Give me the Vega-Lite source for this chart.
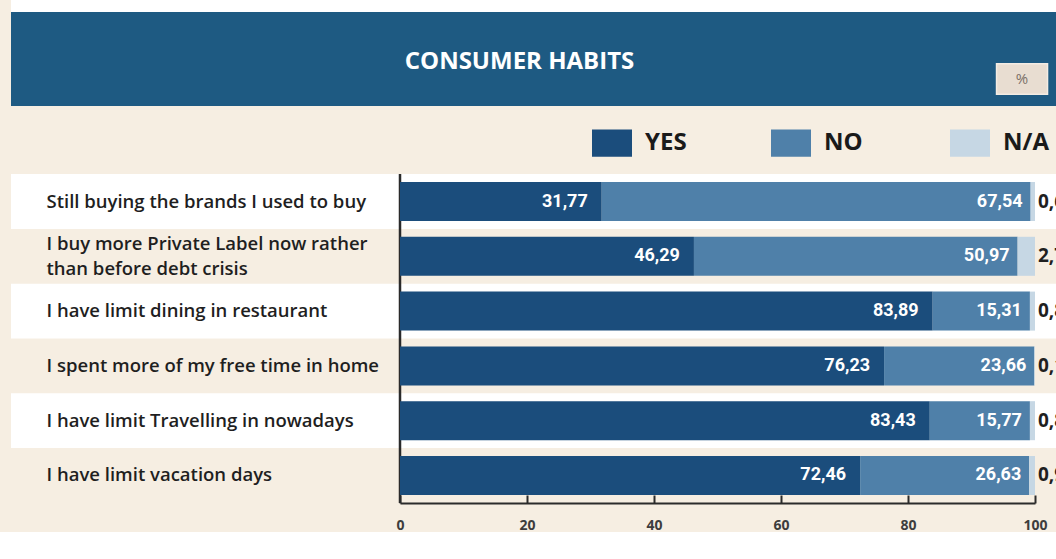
{
  "$schema": "https://vega.github.io/schema/vega-lite/v6.json",
  "padding": {"left": 11, "top": 0, "right": 0, "bottom": 0},
  "background": "#f6eee2",
  "spacing": 0,
  "resolve": {"scale": {"x": "independent", "y": "independent"}},
  "config": {
    "view": {"stroke": null},
    "locale": {"number": {"decimal": ",", "thousands": ".", "grouping": [3], "currency": ["", " €"]}}
  },
  "vconcat": [
    {
      "width": 1045,
      "height": 12,
      "view": {"fill": "#ffffff", "stroke": null},
      "data": {"values": [{}]},
      "mark": {"type": "text"},
      "encoding": {"text": {"value": ""}}
    },
    {
      "width": 1045,
      "height": 94,
      "view": {"fill": "#1e5a82", "stroke": null},
      "data": {"values": [{"t": "CONSUMER HABITS", "p": "%"}]},
      "layer": [
        {
          "mark": {"type": "text", "color": "#ffffff", "font": "Open Sans", "fontSize": 24, "fontWeight": "bold", "dx": -14, "dy": 3},
          "encoding": {"text": {"field": "t"}}
        },
        {
          "mark": {"type": "point", "shape": "M-1,-0.6h2v1.2h-2z", "size": 2601, "filled": true, "fill": "#e8ddd1", "opacity": 1, "stroke": "#f3ece4", "strokeWidth": 1.5},
          "encoding": {
            "x": {"datum": 0.9675, "type": "quantitative", "scale": {"domain": [0, 1]}, "axis": null},
            "y": {"datum": 0.287, "type": "quantitative", "scale": {"domain": [0, 1]}, "axis": null}
          }
        },
        {
          "mark": {"type": "text", "color": "#7a7068", "font": "Open Sans", "fontSize": 15},
          "encoding": {
            "text": {"field": "p"},
            "x": {"datum": 0.9675, "type": "quantitative", "scale": {"domain": [0, 1]}, "axis": null},
            "y": {"datum": 0.287, "type": "quantitative", "scale": {"domain": [0, 1]}, "axis": null}
          }
        }
      ]
    },
    {
      "width": 1045,
      "height": 66,
      "data": {"values": [{}]},
      "mark": {"type": "text"},
      "encoding": {"text": {"value": ""}}
    },
    {
      "width": 1045,
      "height": 329,
      "data": {
        "values": [
          {"q": "Still buying the brands I used to buy", "YES": 31.77, "NO": 67.54, "N/A": 0.69},
          {"q": "I buy more Private Label now rather than before debt crisis", "YES": 46.29, "NO": 50.97, "N/A": 2.74},
          {"q": "I have limit dining in restaurant", "YES": 83.89, "NO": 15.31, "N/A": 0.80},
          {"q": "I spent more of my free time in home", "YES": 76.23, "NO": 23.66, "N/A": 0.11},
          {"q": "I have limit Travelling in nowadays", "YES": 83.43, "NO": 15.77, "N/A": 0.80},
          {"q": "I have limit vacation days", "YES": 72.46, "NO": 26.63, "N/A": 0.91}
        ]
      },
      "transform": [
        {"fold": ["YES", "NO", "N/A"], "as": ["cat", "value"]},
        {"stack": "value", "groupby": ["q"], "sort": [{"field": "cat", "order": "descending"}], "as": ["v0", "v1"]}
      ],
      "layer": [
        {
          "transform": [
            {"filter": "datum.cat == 'YES'"},
            {"window": [{"op": "row_number", "as": "rn"}]},
            {"filter": "datum.rn % 2 == 1"}
          ],
          "mark": {"type": "rect", "fill": "#ffffff", "stroke": "#ffffff", "strokeWidth": 15.8, "clip": true},
          "encoding": {
            "y": {
              "field": "q", "type": "nominal", "sort": null, "title": null,
              "scale": {
                "domain": [
                  "Still buying the brands I used to buy",
                  "I buy more Private Label now rather than before debt crisis",
                  "I have limit dining in restaurant",
                  "I spent more of my free time in home",
                  "I have limit Travelling in nowadays",
                  "I have limit vacation days"
                ],
                "paddingInner": 0.288, "paddingOuter": 0.146
              },
              "axis": {
                "orient": "left", "domain": false, "ticks": false, "tickSize": 0,
                "labelAlign": "left", "labelBaseline": "middle", "labelPadding": -35, "labelLimit": 420,
                "labelFont": "Open Sans", "labelFontSize": 18.5, "labelFontWeight": 600, "labelColor": "#1f1f1f",
                "labelLineHeight": 25,
                "labelOffset": {"condition": {"test": "datum.value == 'I buy more Private Label now rather than before debt crisis'", "value": -12}, "value": 0},
                "labelExpr": "datum.value == 'I buy more Private Label now rather than before debt crisis' ? ['I buy more Private Label now rather', 'than before debt crisis'] : datum.value"
              }
            }
          }
        },
        {
          "data": {"values": [{}]},
          "mark": {"type": "rule", "color": "#2a2a2a", "strokeWidth": 2.5},
          "encoding": {
            "x": {"datum": 0, "type": "quantitative", "title": null, "scale": {"domain": [0, 100], "range": [389, 1024], "nice": false}}
          }
        },
        {
          "mark": {"type": "bar"},
          "encoding": {
            "y": {"field": "q", "type": "nominal", "sort": null, "title": null},
            "x": {
              "field": "v0", "type": "quantitative", "title": null,
              "scale": {"domain": [0, 100], "range": [389, 1024], "nice": false},
              "axis": {
                "values": [0, 20, 40, 60, 80, 100], "grid": false, "labelFlush": false,
                "domain": true, "domainColor": "#2b2b2b", "domainWidth": 2,
                "ticks": true, "tickSize": -8, "tickColor": "#2b2b2b", "tickWidth": 2,
                "labelPadding": 23, "labelFont": "Open Sans", "labelFontSize": 14, "labelFontWeight": "bold", "labelColor": "#3d3d3d"
              }
            },
            "x2": {"field": "v1"},
            "color": {
              "field": "cat", "type": "nominal", "title": null,
              "scale": {"domain": ["YES", "NO", "N/A"], "range": ["#1b4d7c", "#4f80a9", "#c6d7e4"]},
              "legend": {
                "orient": "none", "legendX": 581, "legendY": 123, "direction": "horizontal", "title": null,
                "symbolType": "M-1,-0.68h2v1.36h-2z", "symbolSize": 1600, "symbolStrokeWidth": 0, "symbolOpacity": 1,
                "labelFont": "Open Sans", "labelFontSize": 24, "labelFontWeight": "bold", "labelColor": "#1a1a1a",
                "labelOffset": 13, "columnPadding": 80, "gridAlign": "all"
              }
            }
          }
        },
        {
          "transform": [{"filter": "datum.cat == 'YES'"}],
          "mark": {"type": "text", "align": "right", "baseline": "middle", "dx": -14, "color": "#ffffff", "font": "Roboto", "fontSize": 18, "fontWeight": "bold"},
          "encoding": {
            "y": {"field": "q", "type": "nominal", "sort": null, "title": null},
            "x": {"field": "v1", "type": "quantitative", "title": null, "scale": {"domain": [0, 100], "range": [389, 1024], "nice": false}},
            "text": {"field": "value", "type": "quantitative", "format": ".2f"}
          }
        },
        {
          "transform": [{"filter": "datum.cat == 'NO'"}],
          "mark": {"type": "text", "align": "right", "baseline": "middle", "dx": -8, "color": "#ffffff", "font": "Roboto", "fontSize": 18, "fontWeight": "bold"},
          "encoding": {
            "y": {"field": "q", "type": "nominal", "sort": null, "title": null},
            "x": {"field": "v1", "type": "quantitative", "title": null, "scale": {"domain": [0, 100], "range": [389, 1024], "nice": false}},
            "text": {"field": "value", "type": "quantitative", "format": ".2f"}
          }
        },
        {
          "transform": [{"filter": "datum.cat == 'N/A'"}],
          "mark": {"type": "text", "align": "left", "baseline": "middle", "dx": 3, "color": "#1f1f1f", "font": "Open Sans", "fontSize": 19, "fontWeight": "bold"},
          "encoding": {
            "y": {"field": "q", "type": "nominal", "sort": null, "title": null},
            "x": {"field": "v1", "type": "quantitative", "title": null, "scale": {"domain": [0, 100], "range": [389, 1024], "nice": false}},
            "text": {"field": "value", "type": "quantitative", "format": ".2f"}
          }
        }
      ]
    }
  ]
}
